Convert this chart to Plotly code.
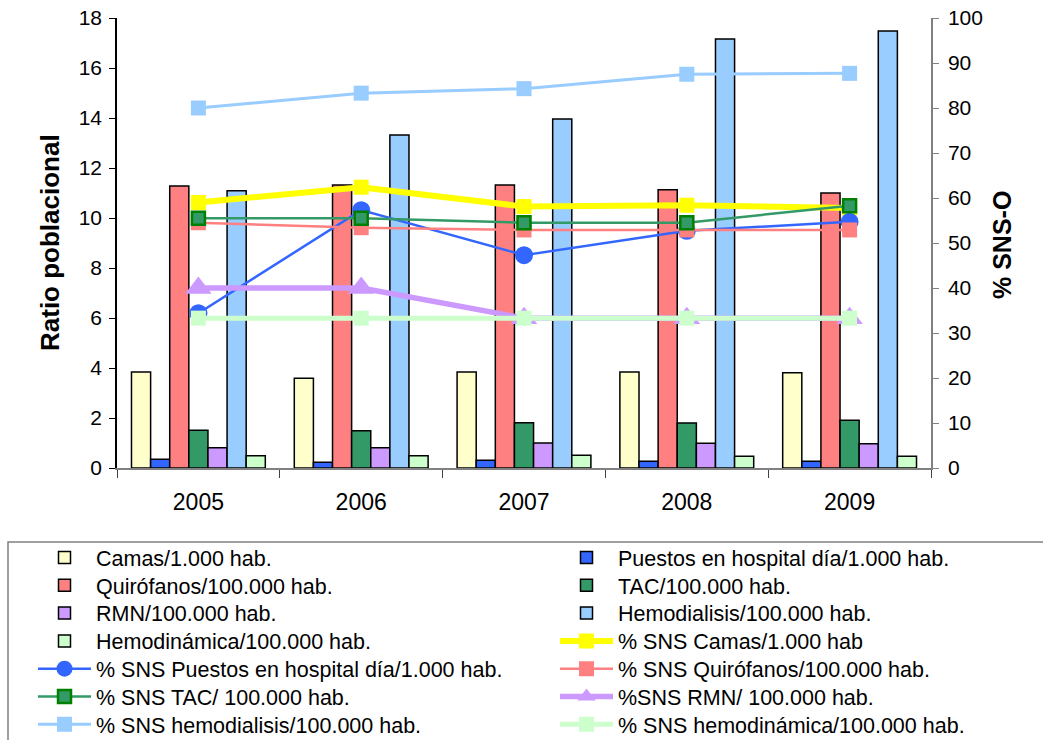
import plotly.graph_objects as go

years = ["2005", "2006", "2007", "2008", "2009"]

camas = [3.84, 3.59, 3.84, 3.84, 3.81]
puestos = [0.35, 0.23, 0.31, 0.27, 0.27]
quirofanos = [11.28, 11.32, 11.32, 11.13, 11.0]
tac = [1.51, 1.49, 1.81, 1.80, 1.91]
rmn = [0.81, 0.81, 1.00, 0.99, 0.97]
hemodialisis = [11.09, 13.32, 13.96, 17.16, 17.48]
hemodinamica = [0.49, 0.49, 0.51, 0.47, 0.47]

sns_camas = [59.0, 62.4, 58.1, 58.4, 57.8]
sns_puestos = [34.4, 57.3, 47.3, 52.7, 54.7]
sns_quirofanos = [54.5, 53.4, 52.9, 52.9, 52.9]
sns_tac = [55.5, 55.5, 54.5, 54.5, 58.3]
sns_rmn = [40.0, 40.0, 33.3, 33.3, 33.3]
sns_hemodialisis = [80.0, 83.3, 84.3, 87.5, 87.7]
sns_hemodinamica = [33.3, 33.3, 33.3, 33.3, 33.3]

FONT = "Arial, 'Liberation Sans', sans-serif"
W, H = 1043, 740

# plot area in page pixels
PX0, PX1, PY0, PY1 = 117, 931, 18, 468
L, T = PX0, PY0
R, B = W - PX1, H - PY1
pw, ph = PX1 - PX0, PY1 - PY0


def paper_x(p):
    return (p - PX0) / pw


def paper_y(p):
    return (PY1 - p) / ph


def cont_x(p):
    return p / W


def cont_y(p):
    return 1 - p / H


fig = go.Figure()

bars = [
    ("Camas/1.000 hab.", camas, "#FFFFCC"),
    ("Puestos en hospital día/1.000 hab.", puestos, "#3366FF"),
    ("Quirófanos/100.000 hab.", quirofanos, "#FF8080"),
    ("TAC/100.000 hab.", tac, "#339966"),
    ("RMN/100.000 hab.", rmn, "#CC99FF"),
    ("Hemodialisis/100.000 hab.", hemodialisis, "#99CCFF"),
    ("Hemodinámica/100.000 hab.", hemodinamica, "#CCFFCC"),
]
lines = [
    ("% SNS Camas/1.000 hab", sns_camas, "#FFFF00", 6, "square", 15, "#FFFF00", 0),
    ("% SNS Puestos en hospital día/1.000 hab.", sns_puestos, "#3366FF", 2.5, "circle", 18, "#3366FF", 0),
    ("% SNS Quirófanos/100.000 hab.", sns_quirofanos, "#FF8080", 2.5, "square", 15, "#FF8080", 0),
    ("% SNS TAC/ 100.000 hab.", sns_tac, "#339966", 2.5, "square", 13, "#008000", 2.5),
    ("%SNS RMN/ 100.000 hab.", sns_rmn, "#CC99FF", 5.5, "triangle-up", 23, "#CC99FF", 0),
    ("% SNS hemodialisis/100.000 hab.", sns_hemodialisis, "#99CCFF", 3, "square", 15, "#99CCFF", 0),
    ("% SNS hemodinámica/100.000 hab.", sns_hemodinamica, "#CCFFCC", 5, "square", 15, "#CCFFCC", 0),
]

# legend slots: entries fill rows left-to-right (two columns)
LEG_FONT = 21.5
ROW0, ROW_STEP = 557.5, 27.8
COL_X = [33, 555]
ITEM_H = LEG_FONT * 1.3 + 3
legend_layouts = {}


def legend_name(i):
    return "legend" if i == 0 else "legend%d" % (i + 1)


def make_legend(i):
    row, col = divmod(i, 2)
    center = ROW0 + row * ROW_STEP
    top = center - (ITEM_H / 2 + 5)
    legend_layouts[legend_name(i)] = dict(
        xref="container", yref="container",
        x=cont_x(COL_X[col]), y=cont_y(top),
        xanchor="left", yanchor="top", orientation="v",
        itemwidth=53, font=dict(size=LEG_FONT, family=FONT, color="black"),
        bgcolor="rgba(0,0,0,0)", borderwidth=0,
        itemclick=False, itemdoubleclick=False,
    )
    return legend_name(i)


idx = 0
for name, vals, col in bars:
    fig.add_trace(go.Bar(
        x=years, y=vals, name=name, legend=make_legend(idx),
        marker=dict(color=col, line=dict(color="black", width=1.5)),
        yaxis="y",
    ))
    idx += 1

for name, vals, col, lw, sym, sz, lc, mlw in lines:
    fig.add_trace(go.Scatter(
        x=years, y=vals, name=name, legend=make_legend(idx), mode="lines+markers",
        line=dict(color=col, width=lw),
        marker=dict(symbol=sym, size=sz, color=col, line=dict(color=lc, width=mlw)),
        yaxis="y2",
    ))
    idx += 1

fig.update_layout(
    width=W, height=H,
    margin=dict(l=L, r=R, t=T, b=B, autoexpand=False),
    paper_bgcolor="white", plot_bgcolor="white",
    font=dict(family=FONT, size=21, color="black"),
    barmode="group", bargap=0.178, bargroupgap=0,
    xaxis=dict(
        type="category", tickson="boundaries", ticks="outside", ticklen=8,
        tickcolor="#404040", showline=True, linecolor="#808080", linewidth=1.5,
        showgrid=False, zeroline=False, ticklabelstandoff=13,
        tickfont=dict(size=23, family=FONT, color="black"),
    ),
    yaxis=dict(
        range=[0, 18], dtick=2, ticks="outside", ticklen=6, tickcolor="black",
        showline=True, linecolor="black", linewidth=1.5, showgrid=False,
        zeroline=False, ticklabelstandoff=3, ticklabeloverflow="allow",
        tickfont=dict(size=21, family=FONT, color="black"),
    ),
    yaxis2=dict(
        range=[0, 100], dtick=10, ticks="outside", ticklen=6, tickcolor="#808080",
        showline=True, linecolor="#808080", linewidth=1.5, showgrid=False,
        zeroline=False, overlaying="y", side="right", ticklabelstandoff=5,
        ticklabeloverflow="allow",
        tickfont=dict(size=21, family=FONT, color="black"),
    ),
    showlegend=True,
    **legend_layouts,
)

# legend frame
fig.add_shape(type="rect", xref="paper", yref="paper",
              x0=paper_x(8), x1=paper_x(1070),
              y0=paper_y(542), y1=paper_y(780),
              line=dict(color="#808080", width=1.5), fillcolor="rgba(0,0,0,0)",
              layer="below")

# axis titles
fig.add_annotation(text="<b>Ratio poblacional</b>", textangle=-90,
                   xref="paper", yref="paper", x=paper_x(50), y=paper_y(243),
                   showarrow=False, font=dict(size=26, family=FONT, color="black"),
                   xanchor="center", yanchor="middle")
fig.add_annotation(text="<b>% SNS-O</b>", textangle=-90,
                   xref="paper", yref="paper", x=paper_x(1002), y=paper_y(245),
                   showarrow=False, font=dict(size=25, family=FONT, color="black"),
                   xanchor="center", yanchor="middle")

fig.write_html("out.html",
               config={"displayModeBar": False},
               post_script="document.body.style.margin='0px';document.body.style.overflow='hidden';")
